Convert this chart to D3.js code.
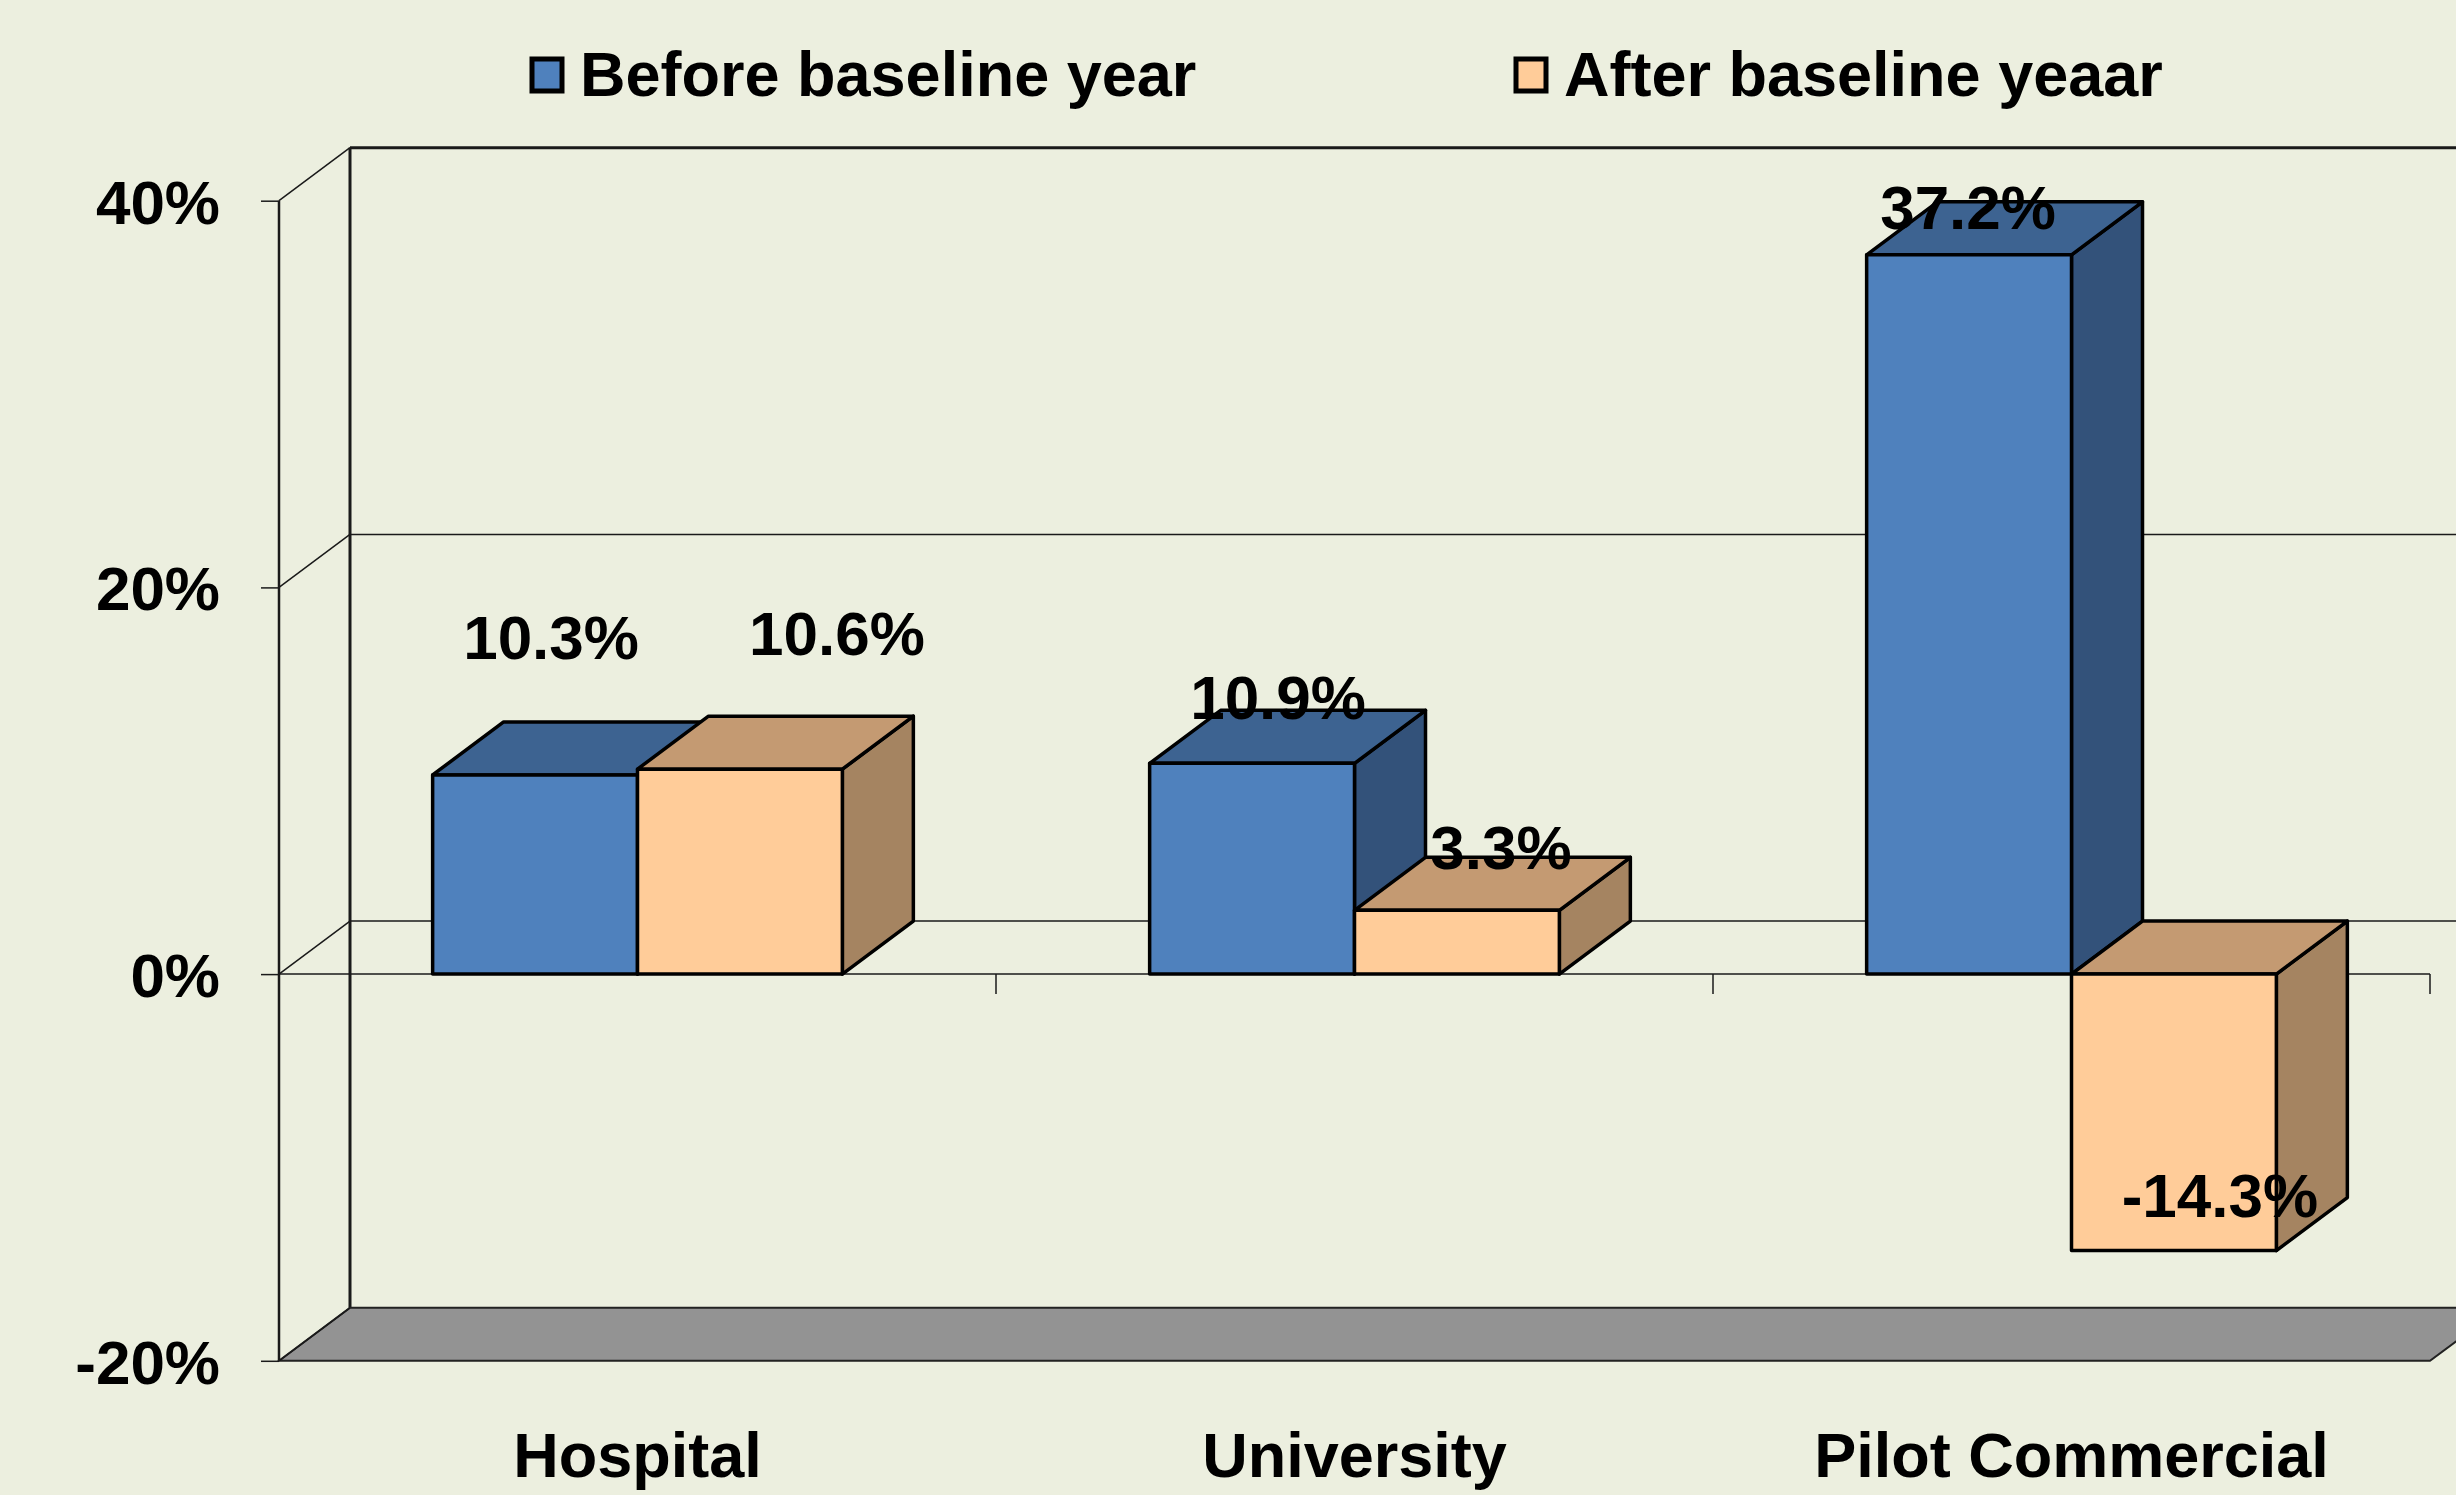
<!DOCTYPE html>
<html>
<head>
<meta charset="utf-8">
<script src="https://cdn.jsdelivr.net/npm/d3@7"></script>
<style>
  html, body { margin: 0; padding: 0; background: #ECEFDF; }
  svg { display: block; }
  text { font-family: "Liberation Sans", Arial, Helvetica, sans-serif; font-weight: bold; fill: #000; }
</style>
</head>
<body>
<svg id="chart" width="2456" height="1495"></svg>
<script>
// ---------- data ----------
const categories = ["Hospital", "University", "Pilot Commercial"];
const seriesNames = ["Before baseline year", "After baseline yeaar"];
const beforeValues = [10.3, 10.9, 37.2];
const afterValues = [10.6, 3.3, -14.3];
const yTickValues = [-20, 0, 20, 40];
const yTickLabels = ["-20%", "0%", "20%", "40%"];
const valueLabels = [["10.3%", "10.9%", "37.2%"], ["10.6%", "3.3%", "-14.3%"]];

// ---------- layout / style ----------
const W = 2456, H = 1495;
const plot = { left: 279, right: 2430, top: 200.7, bottom: 1360.8 };
const depth = { dx: 71, dy: -53 };
const bg = "#ECEFDF";
const faceColors = [
  { front: "#4F81BD", top: "#3D6391", side: "#33527A" },
  { front: "#FFCC99", top: "#C49A72", side: "#A58461" }
];
// label nudges relative to front-centre of each bar's value end [dx, dy]
const labelNudge = [
  [[16, -116], [26, -44], [-1, -26]],
  [[97, -114], [44, -41], [46, -34]]
];

const svg = d3.select("#chart");
svg.append("rect").attr("width", W).attr("height", H).attr("fill", bg);

const y = d3.scaleLinear().domain([-20, 40]).range([plot.bottom, plot.top]);
const x0 = d3.scaleBand().domain(categories).range([plot.left, plot.right]).padding(0);
const x1 = d3.scaleBand().domain([0, 1]).range([0, x0.bandwidth()]).paddingInner(0).paddingOuter(0.75);

const series = [beforeValues, afterValues];

// ---------- back wall ----------
const wall = svg.append("g");
yTickValues.forEach(t => {
  if (t === -20) return;
  wall.append("line")
    .attr("x1", plot.left + depth.dx).attr("x2", plot.right + depth.dx)
    .attr("y1", y(t) + depth.dy).attr("y2", y(t) + depth.dy)
    .attr("stroke", "#1a1a1a").attr("stroke-width", t === 40 ? 3 : 1.5);
});
wall.append("line")
  .attr("x1", plot.left + depth.dx).attr("x2", plot.left + depth.dx)
  .attr("y1", y(40) + depth.dy).attr("y2", y(-20) + depth.dy)
  .attr("stroke", "#1a1a1a").attr("stroke-width", 3);

// floor
const fy = y(-20);
wall.append("polygon")
  .attr("points", [[plot.left, fy], [plot.left + depth.dx, fy + depth.dy], [plot.right + depth.dx, fy + depth.dy], [plot.right, fy]].map(p => p.join(",")).join(" "))
  .attr("fill", "#939393").attr("stroke", "#222").attr("stroke-width", 2);

// side wall lines
yTickValues.forEach(t => {
  wall.append("line")
    .attr("x1", plot.left).attr("x2", plot.left + depth.dx)
    .attr("y1", y(t)).attr("y2", y(t) + depth.dy)
    .attr("stroke", "#1a1a1a").attr("stroke-width", 1.5);
});

// ---------- y axis ----------
const yAxis = d3.axisLeft(y).tickValues(yTickValues).tickSize(18).tickPadding(41)
  .tickFormat((d, i) => yTickLabels[yTickValues.indexOf(d)]);
const yg = svg.append("g").attr("transform", `translate(${plot.left},0)`).call(yAxis);
yg.select(".domain").attr("stroke", "#1a1a1a").attr("stroke-width", 2.5).attr("d", `M0,${y(40)}V${y(-20)}`);
yg.selectAll(".tick line").attr("stroke", "#1a1a1a").attr("stroke-width", 1.5);
yg.selectAll(".tick text").attr("font-size", 62).attr("font-family", "Liberation Sans, Arial, sans-serif").attr("font-weight", "bold").attr("fill", "#000").attr("dy", "0.36em");

// front zero line + category ticks
svg.append("line").attr("x1", plot.left).attr("x2", plot.right).attr("y1", y(0)).attr("y2", y(0))
  .attr("stroke", "#1a1a1a").attr("stroke-width", 1.5);
categories.forEach(c => {
  const xb = x0(c) + x0.bandwidth();
  svg.append("line").attr("x1", xb).attr("x2", xb).attr("y1", y(0)).attr("y2", y(0) + 20)
    .attr("stroke", "#1a1a1a").attr("stroke-width", 1.5);
});

// ---------- bars ----------
const bars = svg.append("g");
const pts = a => a.map(p => p.join(",")).join(" ");
categories.forEach((c, ci) => {
  series.forEach((vals, si) => {
    const v = vals[ci];
    const bx = x0(c) + x1(si);
    const w = x1.bandwidth();
    const yT = y(Math.max(v, 0)), yB = y(Math.min(v, 0));
    const col = faceColors[si];
    const g = bars.append("g").attr("stroke", "#000").attr("stroke-width", 3.5).attr("stroke-linejoin", "round");
    g.append("polygon").attr("fill", col.side)
      .attr("points", pts([[bx + w, yT], [bx + w + depth.dx, yT + depth.dy], [bx + w + depth.dx, yB + depth.dy], [bx + w, yB]]));
    g.append("polygon").attr("fill", col.top)
      .attr("points", pts([[bx, yT], [bx + depth.dx, yT + depth.dy], [bx + w + depth.dx, yT + depth.dy], [bx + w, yT]]));
    g.append("rect").attr("fill", col.front)
      .attr("x", bx).attr("y", yT).attr("width", w).attr("height", yB - yT);
  });
});

// ---------- value labels ----------
categories.forEach((c, ci) => {
  series.forEach((vals, si) => {
    const v = vals[ci];
    const cx = x0(c) + x1(si) + x1.bandwidth() / 2;
    const [ndx, ndy] = labelNudge[si][ci];
    svg.append("text")
      .attr("x", cx + ndx).attr("y", y(v) + ndy)
      .attr("text-anchor", "middle").attr("font-size", 62)
      .text(valueLabels[si][ci]);
  });
});

// ---------- category labels ----------
categories.forEach(c => {
  svg.append("text")
    .attr("x", x0(c) + x0.bandwidth() / 2).attr("y", 1477)
    .attr("text-anchor", "middle").attr("font-size", 63)
    .text(c);
});

// ---------- legend ----------
const legendX = [530, 1514];
seriesNames.forEach((s, i) => {
  const g = svg.append("g").attr("transform", `translate(${legendX[i]},57)`);
  g.append("rect").attr("x", 2).attr("y", 2).attr("width", 30).attr("height", 32)
    .attr("fill", faceColors[i].front).attr("stroke", "#000").attr("stroke-width", 5);
  g.append("text").attr("x", 50).attr("y", 39).attr("font-size", 63).text(s);
});
</script>
</body>
</html>
